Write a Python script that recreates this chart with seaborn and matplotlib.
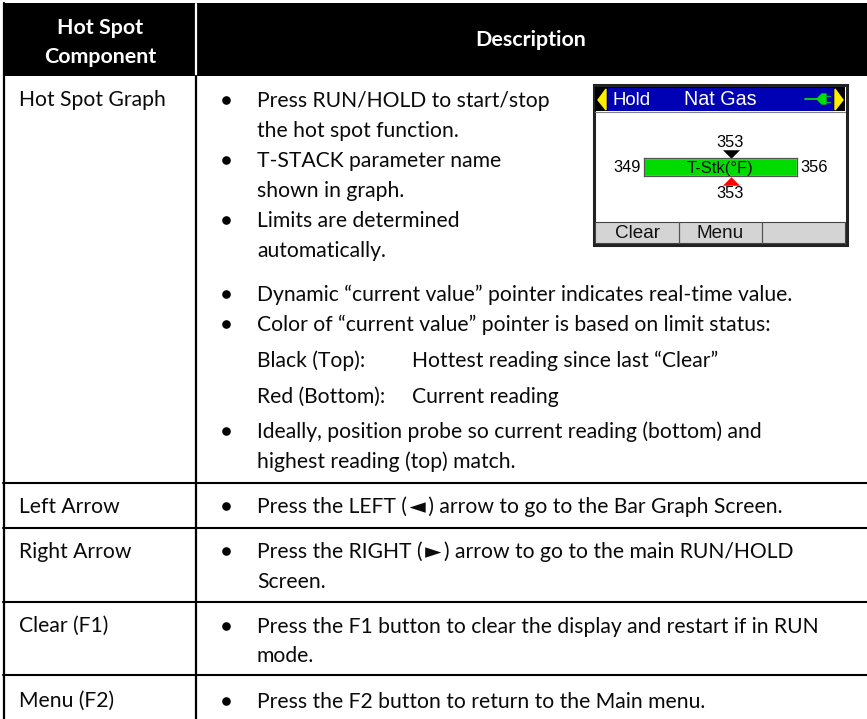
"""plot.py - hot spot component table with the handheld screen inset."""
import matplotlib
matplotlib.use("Agg")
import matplotlib.pyplot as plt
import pandas as pd
import seaborn as sns

W, H = 867, 719

header_left = ["Hot Spot", "Component"]
header_left_y = [34, 63]
header_right = "Description"
row_names = ["Hot Spot Graph", "Left Arrow", "Right Arrow", "Clear (F1)", "Menu (F2)"]
row_name_y = [106, 513, 558, 632, 707]
row_lines = [483, 527.5, 602, 675]

bullet_text = ["Press RUN/HOLD to start/stop", "the hot spot function.",
               "T-STACK parameter name", "shown in graph.",
               "Limits are determined", "automatically.",
               "Dynamic “current value” pointer indicates real-time value.",
               "Color of “current value” pointer is based on limit status:",
               "Ideally, position probe so current reading (bottom) and",
               "highest reading (top) match.",
               "Press the LEFT (\u2009\u25c4\u2009) arrow to go to the Bar Graph Screen.",
               "Press the RIGHT (\u2009\u25ba\u2009) arrow to go to the main RUN/HOLD",
               "Screen.",
               "Press the F1 button to clear the display and restart if in RUN",
               "mode.",
               "Press the F2 button to return to the Main menu."]
bullet_text_y = [107, 137, 167, 197, 227, 257, 301, 331, 438, 468, 513, 558, 588, 633, 662, 708]
bullet_flags = [1, 0, 1, 0, 1, 0, 1, 1, 1, 0, 1, 1, 0, 1, 0, 1]

legend_names = ["Black (Top):", "Red (Bottom):"]
legend_desc = ["Hottest reading since last “Clear”", "Current reading"]
legend_y = [367, 403]

gauge_low = 349
gauge_high = 356
gauge_top = 353
gauge_now = 353
gauge_label = "T-Stk(°F)"
softkeys = ["Clear", "Menu", ""]

sns.set_theme(style="white")
plt.rcParams["font.family"] = ["Lato", "DejaVu Sans"]

fig = plt.figure(figsize=(W / 100, H / 100), dpi=100)
ax = fig.add_axes([0, 0, 1, 1])
ax.set_xlim(0, W)
ax.set_ylim(H, 0)
ax.axis("off")


def box(x0, y0, x1, y1, **kw):
    ax.add_patch(plt.Rectangle((x0, y0), x1 - x0, y1 - y0, **kw))


# table frame
box(3, 3, W, 76, fc="black", ec="none")
ax.plot([196, 196], [4, 75], color="white", lw=1.6)
ax.plot([196, 196], [76, H], color="black", lw=1.6)
ax.plot([4, 4], [3, H], color="black", lw=1.6)
for y in row_lines:
    ax.plot([3, W], [y, y], color="black", lw=1.5)

for line, y in zip(header_left, header_left_y):
    ax.text(100, y, line, color="white", fontsize=15.4, fontweight="bold",
            ha="center", va="baseline")
ax.text(531, 46, header_right, color="white", fontsize=15.4, fontweight="bold",
        ha="center", va="baseline")

for name, y in zip(row_names, row_name_y):
    ax.text(19, y, name, fontsize=15.2, color="#0a0a0a", va="baseline")

for line, y, flag in zip(bullet_text, bullet_text_y, bullet_flags):
    ax.text(257, y, line, fontsize=15.2, color="#0a0a0a", va="baseline")
    if flag:
        ax.plot([225.5], [y - 7], "o", color="black", ms=6.2, mew=0)

for name, desc, y in zip(legend_names, legend_desc, legend_y):
    ax.text(257, y, name, fontsize=15.2, color="#0a0a0a", va="baseline")
    ax.text(412.5, y, desc, fontsize=15.2, color="#0a0a0a", va="baseline")

# screen inset
box(593.5, 85, 846.5, 245, fc="white", ec="#222222", lw=2.2)
box(595, 87, 845, 111, fc="black", ec="none")
box(608, 88, 833, 111, fc="#0000b4", ec="none")
ax.plot([595, 845], [111.8, 111.8], color="#808080", lw=0.8)
ax.fill([606, 598, 606], [89, 100, 110], color="#ffee00")
ax.fill([835, 843, 835], [89, 100, 110], color="#ffee00")
screen_font = ["Liberation Sans", "DejaVu Sans"]
ax.text(613, 105, "Hold", color="white", fontsize=13.4, family=screen_font, va="baseline")
ax.text(720.5, 105, "Nat Gas", color="white", fontsize=14.2, family=screen_font,
        ha="center", va="baseline")
# plug icon
ax.plot([805, 819], [99, 99], color="#00e000", lw=1.3)
ax.fill([817, 822, 826, 826, 822], [99, 94, 94, 104, 104], color="#00e000")
ax.plot([826, 830], [96, 96], color="#00a060", lw=0.9)
ax.plot([826, 830], [102, 102], color="#00a060", lw=0.9)

# softkeys
box(595, 222, 845, 243, fc="#d4d4d4", ec="#444444", lw=0.8)
for x in [679, 762]:
    ax.plot([x, x], [222, 243], color="#555555", lw=0.9)
for key, x in zip(softkeys, [638, 720, 803]):
    ax.text(x, 238, key, fontsize=13.6, family=screen_font, color="#111111",
            ha="center", va="baseline")

# gauge drawn on its own scale: axis runs low limit to high limit
gauge = fig.add_axes([644 / W, 1 - 176 / H, (797 - 644) / W, 18 / H])
df = pd.DataFrame({"value": [gauge_high], "name": [gauge_label]})
sns.barplot(data=df, x="value", y="name", orient="h", color="#00dc00", saturation=1,
            width=1.0, ax=gauge)
for s in gauge.spines.values():
    s.set_visible(True)
    s.set_color("#555555")
    s.set_linewidth(0.9)
point_down = [(-1, 0.5), (1, 0.5), (0, -0.5)]
point_up = [(-1, -0.5), (1, -0.5), (0, 0.5)]
sns.scatterplot(x=[gauge_top], y=[-0.75], marker=point_down, color="black", s=150, linewidth=0,
                clip_on=False, ax=gauge, legend=False)
sns.scatterplot(x=[gauge_now], y=[0.75], marker=point_up, color="#ff0000", s=150, linewidth=0,
                clip_on=False, ax=gauge, legend=False)
gauge.set_xlim(gauge_low, gauge_high)
gauge.set_ylim(0.5, -0.5)
gauge.set(xlabel="", ylabel="", xticks=[], yticks=[])
gauge.text(0.497, 0.5, gauge_label, transform=gauge.transAxes, fontsize=12, family=screen_font,
           color="#111111", ha="center", va="center_baseline")

ax.text(641, 172, str(gauge_low), fontsize=11.8, family=screen_font, color="black",
        ha="right", va="baseline")
ax.text(800, 172, str(gauge_high), fontsize=11.8, family=screen_font, color="black",
        ha="left", va="baseline")
ax.text(730, 147, str(gauge_top), fontsize=11.8, family=screen_font, color="black",
        ha="center", va="baseline")
ax.text(730, 198, str(gauge_now), fontsize=11.8, family=screen_font, color="black",
        ha="center", va="baseline")

fig.savefig("out.png", dpi=100)
